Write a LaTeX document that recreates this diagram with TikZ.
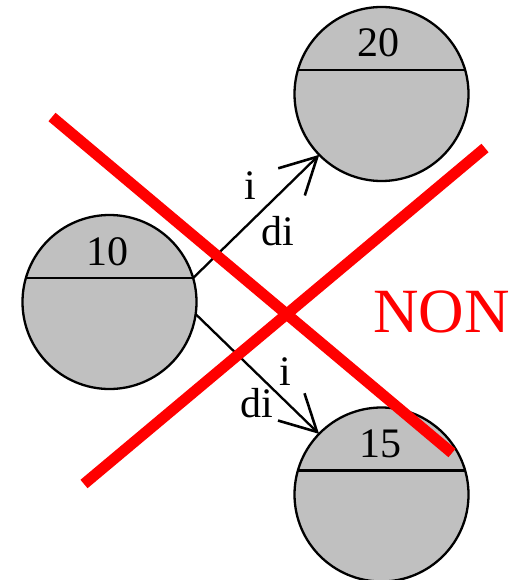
\documentclass[tikz,border=0pt]{standalone}
\usepackage{fontspec}
\setmainfont{Liberation Serif}
\usetikzlibrary{arrows.meta}
\definecolor{cgray}{RGB}{192,192,192}
\begin{document}
\begin{tikzpicture}[x=1pt,y=-1pt,
  state/.style={circle,draw=black,line width=2.3pt,fill=cgray,minimum size=174pt,inner sep=0pt,outer sep=0pt},
  divider/.style={line width=2.3pt},
  lbl/.style={inner sep=0pt,anchor=base,font=\fontsize{42}{42}\selectfont},
  link/.style={line width=2.3pt,-{Straight Barb[length=36pt,width=38pt,line width=2.6pt]}},
  cross/.style={red,line width=11pt},
  nontext/.style={inner sep=0pt,anchor=base,text=red,font=\fontsize{63}{63}\selectfont}]
\useasboundingbox (0,0) rectangle (512,580);
% states
\node[state] (c10) at (109.5,302) {};
\node[state] (c20) at (381.5,94) {};
\node[state] (c15) at (381.5,494.5) {};
\draw[divider] (c10.164) -- (c10.16);
\draw[divider] (c20.164) -- (c20.16);
\draw[divider] (c15.164) -- (c15.16);
\node[lbl] (t10) at (107.5,265) {10};
\node[lbl] (t20) at (378,57) {20};
\node[lbl] (t15) at (380,457) {15};
% transitions
\draw[link] (c10.16) -- (c20);
\draw[link] (c10.-8.6) -- (c15);
\node[lbl] (ui) at (250.5,199) {i};
\node[lbl] (udi) at (277.5,245) {di};
\node[lbl] (li) at (285,385) {i};
\node[lbl] (ldi) at (257,417) {di};
% cross
\coordinate (a1) at (52,117);
\coordinate (a2) at (452,453);
\coordinate (b1) at (485,148);
\coordinate (b2) at (84,484);
\draw[cross] (a1) -- (a2);
\draw[cross] (b1) -- (b2);
\node[nontext] (non) at (441.5,332) {NON};
\end{tikzpicture}
\end{document}
